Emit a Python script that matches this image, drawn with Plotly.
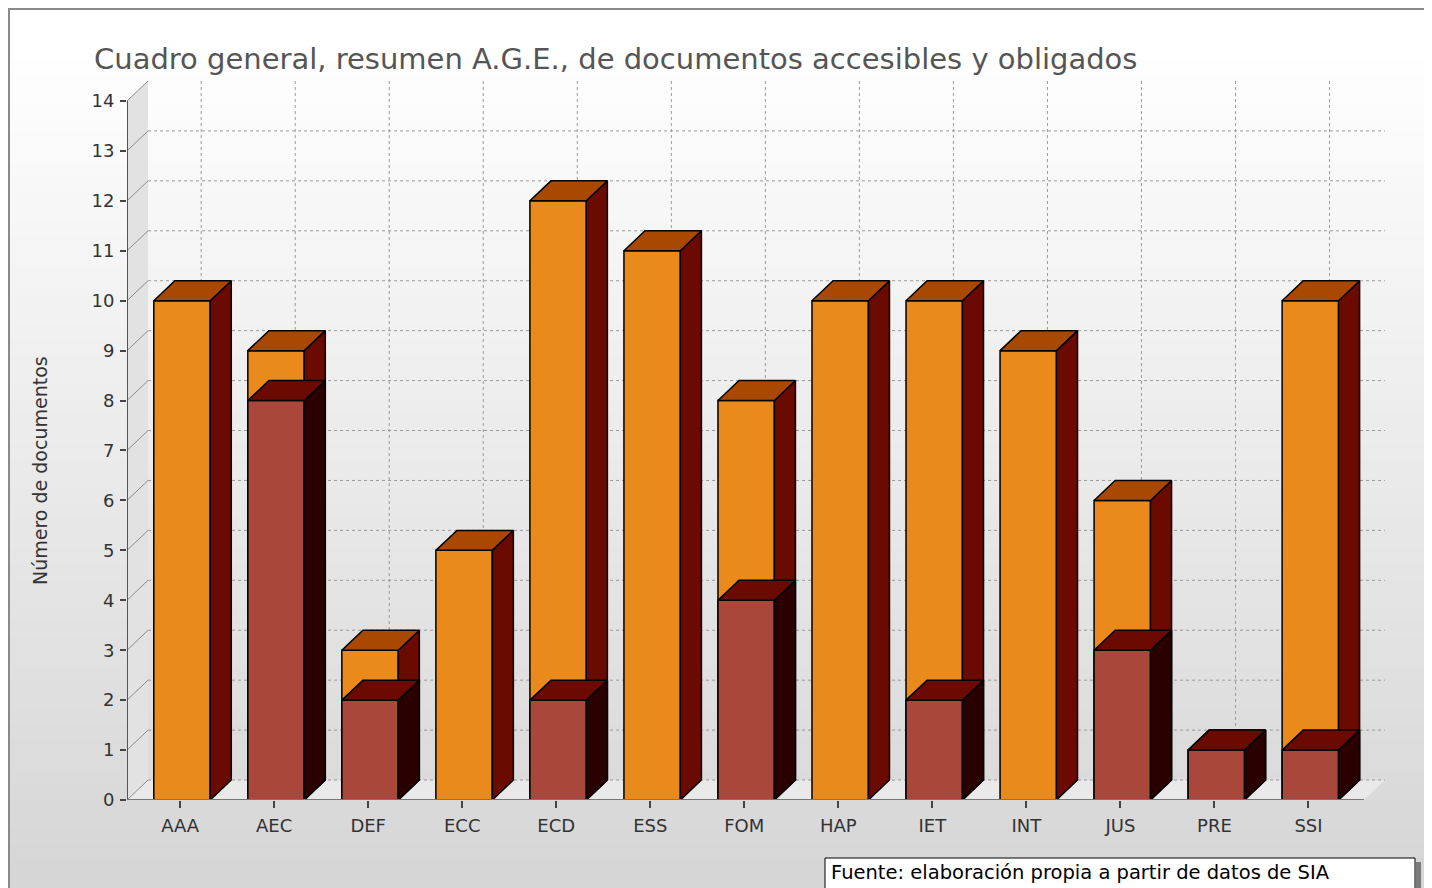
import plotly.graph_objects as go

# Datos
categories = ["AAA", "AEC", "DEF", "ECC", "ECD", "ESS", "FOM", "HAP", "IET", "INT", "JUS", "PRE", "SSI"]
total_docs = [10, 9, 3, 5, 12, 11, 8, 10, 10, 9, 6, 1, 10]      # serie naranja
inner_docs = [0, 8, 2, 0, 2, 0, 4, 0, 2, 0, 3, 1, 1]            # serie roja
y_ticks = list(range(0, 15))

title_text = "Cuadro general, resumen A.G.E., de documentos accesibles y obligados"
y_title = "Número de documentos"
source_text = "Fuente: elaboración propia a partir de datos de SIA"

# La pagina tiene 8px de margen en el body: todo se desplaza 8px
OFF = 8
W, H = 1432 - OFF, 888 - OFF
# area de dibujo en coordenadas de la imagen de referencia
PL, PR, PT, PB = 127, 1385, 81, 800
L, R, T, B = PL - OFF, W - (PR - OFF), PT - OFF, H - (PB - OFF)

# Geometria del falso 3D (unidades de datos)
DX, DY = 0.224, 0.4          # profundidad
BAR_W = 0.6
X0, X1 = -0.565, 12.59       # suelo frontal
Y_TOP = 14

FONT = "DejaVu Sans"


def px(x):
    return (x - PL) / (PR - PL)


def py(y):
    return (PB - y) / (PB - PT)


def faces(values):
    front, side, top = ([], []), ([], []), ([], [])
    for i, v in enumerate(values):
        if v <= 0:
            continue
        l, r = i - BAR_W / 2 + 0.02, i + BAR_W / 2 + 0.02
        for (xs, ys), pts in (
            (front, [(l, 0), (r, 0), (r, v), (l, v), (l, 0)]),
            (side, [(r, 0), (r + DX, DY), (r + DX, v + DY), (r, v), (r, 0)]),
            (top, [(l, v), (r, v), (r + DX, v + DY), (l + DX, v + DY), (l, v)]),
        ):
            xs += [p[0] for p in pts] + [None]
            ys += [p[1] for p in pts] + [None]
    return front, side, top


def poly(xy, fill, lw=1.5):
    return go.Scatter(x=xy[0], y=xy[1], mode="lines", fill="toself", fillcolor=fill,
                      line=dict(color="black", width=lw), hoverinfo="skip", showlegend=False)


def line(xs, ys, color, width=1, dash="solid"):
    return go.Scatter(x=xs, y=ys, mode="lines", line=dict(color=color, width=width, dash=dash),
                      hoverinfo="skip", showlegend=False)


fig = go.Figure()

# pared izquierda y suelo
fig.add_trace(go.Scatter(x=[X0, X0 + DX, X0 + DX, X0, X0], y=[0, DY, Y_TOP + DY, Y_TOP, 0],
                         fill="toself", fillcolor="#e2e2e2", mode="none", hoverinfo="skip", showlegend=False))
fig.add_trace(go.Scatter(x=[X0, X1, X1 + DX, X0 + DX, X0], y=[0, 0, DY, DY, 0],
                         fill="toself", fillcolor="#e9e9e9", mode="none", hoverinfo="skip", showlegend=False))

# rejilla del fondo
gx, gy = [], []
for t in y_ticks[:-1]:
    gx += [X0 + DX, X1 + DX, None]
    gy += [t + DY, t + DY, None]
for i in range(len(categories)):
    gx += [i + DX, i + DX, None]
    gy += [DY, Y_TOP + DY, None]
fig.add_trace(line(gx, gy, "#9a9a9a", 1, "dot"))

dx_, dy_ = [], []
for t in y_ticks:
    dx_ += [X0, X0 + DX, None]
    dy_ += [t, t + DY, None]
fig.add_trace(line(dx_, dy_, "#8c8c8c", 1))

# barras
of, os_, ot = faces(total_docs)
fig.add_trace(poly(of, "#e98a1a"))
fig.add_trace(poly(os_, "#6b0a00"))
fig.add_trace(poly(ot, "#a94800"))
rf, rs, rt = faces(inner_docs)
fig.add_trace(poly(rf, "#a9473a"))
fig.add_trace(poly(rs, "#2b0000"))
fig.add_trace(poly(rt, "#6b0a00"))

# ejes
fig.add_trace(line([X0, X0], [0, Y_TOP], "#555555", 2))
fig.add_trace(line([X0, X1], [0, 0], "#777777", 2))

# fondo degradado
shapes = []
n = 60
for k in range(n):
    y0 = k * 888 / n
    y1 = (k + 1) * 888 / n + 1
    c = int(round(255 - 42 * max(0, (y0 - 40)) / (888 - 40)))
    shapes.append(dict(type="rect", xref="paper", yref="paper", layer="below",
                       x0=px(0), x1=px(1440), y0=py(y0), y1=py(y1),
                       fillcolor=f"rgb({c},{c},{c})", line=dict(width=0)))
# marco exterior (pegado al borde de la figura)
shapes.append(dict(type="rect", xref="paper", yref="paper", layer="below",
                   x0=px(OFF + 1), x1=px(1427), y0=py(OFF + 1), y1=py(900),
                   line=dict(color="#8a8a8a", width=2)))
# recuadro de la fuente
shapes.append(dict(type="rect", xref="paper", yref="paper",
                   x0=px(1416), x1=px(1421), y0=py(862), y1=py(900),
                   fillcolor="#7a7a7a", line=dict(width=0)))
shapes.append(dict(type="rect", xref="paper", yref="paper",
                   x0=px(825), x1=px(1415), y0=py(858), y1=py(900),
                   fillcolor="white", line=dict(color="black", width=1)))

annotations = [
    dict(text=title_text, xref="paper", yref="paper", x=px(92), y=py(59), xanchor="left", yanchor="middle",
         showarrow=False, font=dict(family=FONT, size=29, color="#555555")),
    dict(text=y_title, xref="paper", yref="paper", x=px(40), y=py(471), textangle=-90,
         xanchor="center", yanchor="middle", showarrow=False, font=dict(family=FONT, size=19, color="#333333")),
    dict(text=source_text, xref="paper", yref="paper", x=px(829), y=py(872), xanchor="left", yanchor="middle",
         showarrow=False, font=dict(family=FONT, size=19.5, color="black")),
]

fig.update_layout(
    width=W, height=H,
    margin=dict(l=L, r=R, t=T, b=B),
    paper_bgcolor="white", plot_bgcolor="rgba(0,0,0,0)",
    shapes=shapes, annotations=annotations,
    font=dict(family=FONT, size=18, color="#333333"),
    xaxis=dict(range=[X0, X1 + DX], tickvals=list(range(len(categories))), ticktext=categories,
               showgrid=False, zeroline=False, showline=False, ticks="outside", ticklen=7,
               tickwidth=2, tickcolor="#444444", ticklabelstandoff=2, fixedrange=True),
    yaxis=dict(range=[0, Y_TOP + DY], tickvals=y_ticks, showgrid=False, zeroline=False, showline=False,
               ticks="outside", ticklen=6, tickwidth=2, tickcolor="#444444", ticklabelstandoff=2,
               fixedrange=True),
)

fig.write_html("out.html")
